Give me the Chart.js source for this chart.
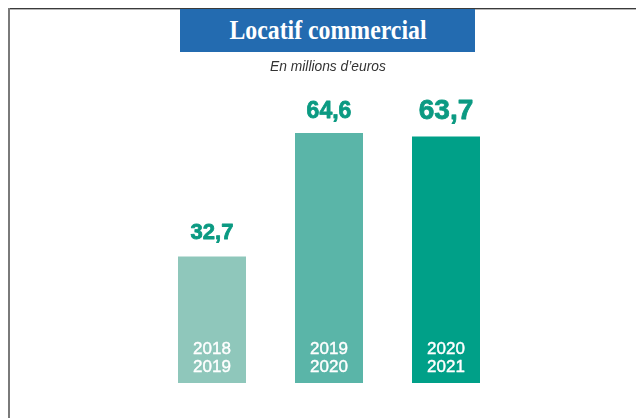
<!DOCTYPE html>
<html>
<head>
<meta charset="utf-8">
<script src="https://cdn.jsdelivr.net/npm/chart.js@4/dist/chart.umd.min.js"></script>
<style>
  html, body { margin:0; padding:0; background:#fff; width:636px; height:418px; overflow:hidden; }
  #wrap { position:relative; width:636px; height:418px; }
  canvas { position:absolute; left:0; top:0; }
  .topline { position:absolute; left:8px; top:8px; width:628px; height:1px; background:#3a3a3a; }
  .topline2 { position:absolute; left:8px; top:9px; width:628px; height:1px; background:#b5b5b5; }
  .leftline { position:absolute; left:8px; top:8px; width:2px; height:410px; background:#7a7a7a; }
  .titlebox { position:absolute; left:180px; top:9px; width:295px; height:43px; background:#236bb0;
              display:flex; align-items:center; justify-content:center; }
  .titlebox span { display:inline-block; color:#fff; font-family:"Liberation Serif","DejaVu Serif",serif;
              font-weight:bold; font-size:28px; transform:scaleX(0.85); white-space:nowrap; margin-top:-1px; }
  .subtitle { position:absolute; left:180px; top:57px; width:295px; text-align:center;
              font-family:"Liberation Sans",Arial,sans-serif; font-style:italic;
              font-size:15px; color:#333; }
  .subtitle span { display:inline-block; transform:scaleX(0.92); }
</style>
</head>
<body>
<div id="wrap">
  <canvas id="c" width="636" height="418"></canvas>
  <div class="topline"></div>
  <div class="topline2"></div>
  <div class="leftline"></div>
  <div class="titlebox"><span id="title"></span></div>
  <div class="subtitle"><span id="subtitle"></span></div>
</div>
<script>
const titleText = "Locatif commercial";
const subtitleText = "En millions d\u2019euros";
const categories = [["2018", "2019"], ["2019", "2020"], ["2020", "2021"]];
const values = [32.7, 64.6, 63.7];
const valueLabels = ["32,7", "64,6", "63,7"];

document.getElementById('title').textContent = titleText;
document.getElementById('subtitle').textContent = subtitleText;

const barColors = ["#8fc7bb", "#5ab5a8", "#00a088"];
const valueFontSizes = [22, 23, 28];
const valueGaps = [17, 15, 17];
const labelColor = "#0b9a82";

const labelPlugin = {
  id: 'labels',
  afterDatasetsDraw(chart) {
    const ctx = chart.ctx;
    const meta = chart.getDatasetMeta(0);
    ctx.save();
    ctx.textAlign = 'center';
    ctx.textBaseline = 'alphabetic';
    meta.data.forEach((bar, i) => {
      ctx.fillStyle = labelColor;
      ctx.strokeStyle = labelColor;
      ctx.lineWidth = 0.8;
      ctx.lineJoin = 'round';
      ctx.font = 'bold ' + valueFontSizes[i] + 'px "Liberation Sans", Arial, sans-serif';
      ctx.fillText(valueLabels[i], bar.x, bar.y - valueGaps[i]);
      ctx.strokeText(valueLabels[i], bar.x, bar.y - valueGaps[i]);
      ctx.fillStyle = '#ffffff';
      ctx.strokeStyle = '#ffffff';
      ctx.lineWidth = 0.4;
      ctx.font = '17px "Liberation Sans", Arial, sans-serif';
      const lines = categories[i];
      ctx.fillText(lines[0], bar.x, bar.base - 29);
      ctx.strokeText(lines[0], bar.x, bar.base - 29);
      ctx.fillText(lines[1], bar.x, bar.base - 11);
      ctx.strokeText(lines[1], bar.x, bar.base - 11);
    });
    ctx.restore();
  }
};

new Chart(document.getElementById('c'), {
  type: 'bar',
  data: {
    labels: categories.map(c => c.join(' ')),
    datasets: [{
      data: values,
      backgroundColor: barColors,
      borderWidth: 0,
      barPercentage: 68 / 117,
      categoryPercentage: 1
    }]
  },
  options: {
    responsive: false,
    animation: false,
    devicePixelRatio: 1,
    layout: { padding: { left: 153.5, right: 131.5, top: 383 - 3.87 * 80, bottom: 35 } },
    plugins: { legend: { display: false }, tooltip: { enabled: false }, title: { display: false } },
    scales: {
      x: { display: false },
      y: { display: false, min: 0, max: 80 }
    }
  },
  plugins: [labelPlugin]
});
</script>
</body>
</html>
